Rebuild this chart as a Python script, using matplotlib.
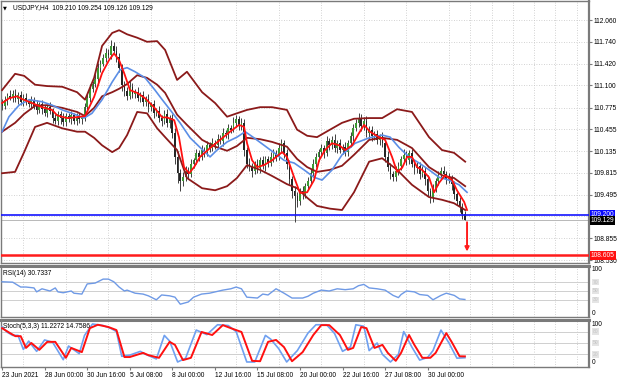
import numpy as np
import matplotlib.pyplot as plt

plt.rcParams['font.family'] = ['Liberation Sans', 'DejaVu Sans']

# USDJPY H4 candles, one per bar (bar 0 = 23 Jun 2021)
first_open = 110.85
closes = [
    110.80, 110.88, 110.95, 110.92, 110.98, 110.90, 110.96, 110.86, 110.92, 110.85,
    110.83, 110.88, 110.80, 110.74, 110.82, 110.76, 110.70, 110.78, 110.72, 110.62,
    110.58, 110.68, 110.62, 110.56, 110.65, 110.60, 110.66, 110.58, 110.64, 110.60,
    110.62, 110.78, 110.92, 111.05, 111.12, 111.20, 111.35, 111.42, 111.50, 111.58,
    111.55, 111.68, 111.60, 111.52, 111.35, 111.10, 111.02, 110.95, 111.08, 110.98,
    111.00, 110.92, 110.96, 110.85, 110.90, 110.78, 110.82, 110.70, 110.72, 110.62,
    110.58, 110.68, 110.55, 110.62, 110.40, 110.05, 109.82, 109.70, 109.75, 109.85,
    109.80, 109.95, 110.00, 110.10, 110.05, 110.15, 110.12, 110.22, 110.18, 110.26,
    110.22, 110.32, 110.28, 110.40, 110.38, 110.48, 110.45, 110.55, 110.60, 110.50,
    110.55, 110.15, 109.95, 109.90, 109.85, 109.95, 109.88, 110.00, 109.92, 110.02,
    109.96, 110.05, 110.10, 110.05, 110.18, 110.25, 110.10, 109.95, 109.72, 109.55,
    109.48, 109.40, 109.55, 109.50, 109.62, 109.70, 109.82, 109.95, 110.05, 110.12,
    110.18, 110.10, 110.28, 110.22, 110.30, 110.18, 110.25, 110.15, 110.20, 110.12,
    110.25, 110.35, 110.48, 110.55, 110.62, 110.50, 110.58, 110.40, 110.45, 110.35,
    110.38, 110.30, 110.35, 110.25, 110.05, 109.90, 109.80, 109.75, 109.85, 109.92,
    110.02, 110.08, 110.00, 110.10, 109.95, 109.88, 109.92, 109.80, 109.85, 109.72,
    109.55, 109.45, 109.58, 109.70, 109.78, 109.85, 109.80, 109.72, 109.75, 109.65,
    109.50, 109.40, 109.32, 109.21, 109.129,
]
wick_up = [
    .05, .06, .04, .08, .05, .07, .04, .06, .05, .07,
    .04, .06, .05, .08, .04, .06, .05, .04, .07, .05,
    .06, .04, .05, .07, .04, .05, .06, .04, .05, .06,
    .04, .06, .05, .07, .05, .06, .08, .05, .06, .07,
    .05, .09, .06, .08, .05, .07, .06, .05, .08, .06,
    .05, .07, .04, .06, .05, .07, .04, .06, .05, .07,
    .05, .06, .08, .05, .06, .07, .09, .05, .08, .06,
    .05, .07, .04, .06, .05, .08, .04, .06, .05, .07,
    .04, .06, .05, .07, .05, .06, .04, .08, .06, .05,
    .07, .06, .05, .08, .06, .04, .07, .05, .06, .04,
    .05, .07, .06, .05, .08, .06, .05, .07, .06, .05,
    .07, .06, .05, .07, .04, .06, .05, .07, .06, .05,
    .06, .04, .07, .05, .06, .08, .05, .06, .04, .07,
    .05, .07, .06, .05, .08, .06, .05, .07, .05, .06,
    .05, .07, .04, .06, .05, .08, .06, .05, .07, .06,
    .05, .08, .06, .05, .07, .04, .06, .05, .07, .05,
    .06, .05, .07, .04, .06, .05, .07, .05, .06, .04,
    .05, .04, .06, .05, .044,
]
wick_dn = [
    .06, .05, .07, .04, .06, .05, .08, .05, .06, .04,
    .05, .07, .04, .06, .05, .08, .05, .06, .04, .07,
    .05, .06, .08, .05, .06, .04, .07, .05, .06, .05,
    .06, .04, .05, .06, .04, .05, .06, .05, .04, .06,
    .05, .06, .04, .07, .06, .08, .07, .06, .05, .07,
    .06, .05, .07, .06, .05, .07, .06, .08, .05, .06,
    .07, .05, .06, .08, .07, .10, .15, .15, .08, .06,
    .06, .05, .07, .05, .06, .04, .07, .05, .06, .05,
    .05, .06, .04, .07, .05, .06, .05, .04, .06, .05,
    .06, .08, .07, .06, .09, .05, .07, .06, .05, .07,
    .06, .05, .07, .06, .05, .07, .06, .08, .07, .10,
    .38, .08, .06, .07, .05, .06, .05, .07, .05, .06,
    .05, .06, .04, .07, .05, .06, .07, .05, .06, .05,
    .06, .05, .07, .05, .06, .07, .05, .06, .08, .06,
    .05, .06, .07, .05, .08, .06, .07, .06, .05, .07,
    .06, .05, .07, .06, .05, .08, .06, .07, .05, .08,
    .07, .08, .06, .05, .07, .06, .05, .07, .06, .08,
    .07, .06, .08, .07, .003,
]

# Bollinger bands
bb_bar = [0, 4.9, 8.3, 12.4, 16.9, 22.6, 28.2, 31.2, 34.6, 37.6, 41.4, 44.0, 47.0, 50.8,
          54.5, 58.3, 61.3, 65.8, 69.5, 75.2, 80.1, 84.6, 88.3, 92.1, 97.0, 101.5, 107.1,
          110.9, 114.7, 118.4, 123.3, 127.8, 132.3, 138.0, 142.9, 148.5, 154.1, 160.5,
          165.4, 169.9, 174.1]
bb_upper = [111.03, 111.27, 111.24, 111.11, 111.09, 111.08, 111.00, 110.89, 111.21, 111.68,
            111.87, 111.91, 111.85, 111.80, 111.74, 111.75, 111.62, 111.18, 111.30, 111.00,
            110.84, 110.64, 110.69, 110.74, 110.78, 110.78, 110.74, 110.45, 110.36, 110.34,
            110.45, 110.55, 110.61, 110.62, 110.62, 110.75, 110.71, 110.34, 110.15, 110.11,
            109.98]
bb_mid = [110.42, 110.55, 110.68, 110.80, 110.81, 110.77, 110.71, 110.65, 110.77, 110.94,
          111.00, 111.05, 111.12, 111.25, 111.21, 111.11, 110.99, 110.67, 110.52, 110.30,
          110.20, 110.14, 110.21, 110.33, 110.31, 110.27, 110.20, 110.02, 109.90, 109.83,
          109.86, 109.92, 110.08, 110.30, 110.33, 110.30, 110.18, 109.90, 109.78, 109.74,
          109.62]
bb_lower = [109.81, 109.83, 110.12, 110.49, 110.55, 110.47, 110.42, 110.42, 110.33, 110.22,
            110.12, 110.18, 110.37, 110.71, 110.69, 110.47, 110.34, 110.15, 109.74, 109.59,
            109.56, 109.62, 109.74, 109.93, 109.86, 109.77, 109.65, 109.59, 109.45, 109.33,
            109.29, 109.27, 109.53, 109.98, 110.03, 109.86, 109.64, 109.46, 109.42, 109.37,
            109.27]

# slow MA (blue)
ma_slow_bar = [0, 2.6, 6.4, 10.2, 15.0, 18.8, 22.6, 26.3, 30.8, 33.8, 37.6, 41.4, 44.4, 47.0,
               50.0, 53.8, 57.5, 60.2, 63.2, 66.9, 70.7, 74.4, 78.2, 80.8, 84.6, 88.3, 91.4,
               94.7, 98.5, 102.3, 106.0, 109.8, 113.5, 117.3, 120.3, 124.1, 127.8, 132.7,
               138.0, 142.9, 145.9, 149.2, 153.0, 156.8, 160.5, 164.3, 168.0, 171.8, 174.8]
ma_slow = [110.42, 110.64, 110.81, 110.89, 110.86, 110.81, 110.74, 110.69, 110.62, 110.69,
           110.89, 111.15, 111.33, 111.36, 111.30, 111.21, 111.03, 110.89, 110.74, 110.55,
           110.33, 110.19, 110.05, 110.15, 110.27, 110.34, 110.42, 110.33, 110.22, 110.11,
           110.00, 109.96, 109.86, 109.75, 109.71, 109.86, 110.08, 110.25, 110.33, 110.37,
           110.34, 110.19, 110.05, 109.96, 109.86, 109.75, 109.71, 109.64, 109.53]

# fast MA (red)
ma_fast_bar = [0, 2.6, 5.6, 7.5, 11.3, 15.0, 18.8, 20.7, 24.4, 27.4, 31.2, 34.6, 37.6, 40.2,
               42.1, 44.0, 45.9, 48.1, 50.8, 53.8, 57.1, 60.2, 62.0, 64.7, 66.5, 68.4, 70.3,
               72.2, 74.4, 78.2, 82.0, 85.7, 89.1, 91.0, 92.1, 94.0, 95.9, 98.5, 101.5, 105.3,
               107.1, 109.8, 112.0, 114.7, 117.3, 119.2, 121.4, 124.0, 126.7, 129.0, 131.6,
               134.2, 136.1, 138.3, 141.7, 144.0, 146.6, 148.5, 150.4, 152.3, 154.1, 156.0,
               157.9, 160.5, 162.4, 164.3, 166.5, 169.2, 171.0, 173.7, 174.8]
ma_fast = [110.84, 110.91, 110.94, 110.90, 110.84, 110.78, 110.74, 110.66, 110.62, 110.63,
           110.65, 110.93, 111.28, 111.47, 111.57, 111.47, 111.28, 111.03, 110.99, 110.91,
           110.78, 110.63, 110.63, 110.59, 110.34, 109.90, 109.81, 109.90, 110.05, 110.18,
           110.30, 110.42, 110.52, 110.49, 110.25, 110.00, 109.90, 109.93, 110.00, 110.12,
           110.05, 109.75, 109.52, 109.53, 109.71, 110.00, 110.15, 110.25, 110.22, 110.15,
           110.22, 110.40, 110.52, 110.42, 110.34, 110.30, 110.05, 109.83, 109.89, 110.05,
           110.05, 109.90, 109.86, 109.75, 109.53, 109.67, 109.78, 109.71, 109.56, 109.39,
           109.27]

# RSI(14)
rsi_bar = [0, 4, 7, 9, 12, 13, 15, 18, 20, 21, 23, 26, 27, 30, 32, 35, 38, 40, 42, 44, 46, 47,
           50, 53, 55, 58, 60, 63, 65, 67, 70, 72, 75, 78, 83, 86, 88, 90, 92, 96, 98, 100,
           103, 106, 109, 113, 115, 117, 120, 123, 126, 129, 132, 134, 136, 138, 141, 144,
           147, 149, 150, 152, 155, 157, 160, 162, 165, 167, 170, 172, 174]
rsi = [71, 70, 59, 59, 57, 48, 55, 50, 57, 48, 46, 50, 45, 43, 66, 68, 77, 77, 71, 59, 50, 52,
       45, 43, 39, 30, 41, 39, 36, 20, 25, 36, 43, 45, 52, 55, 59, 55, 36, 34, 43, 41, 55,
       45, 34, 34, 38, 45, 52, 50, 55, 53, 55, 62, 65, 57, 55, 52, 40, 35, 42, 50, 48, 42,
       40, 30, 40, 45, 40, 32, 30.73]

# Stochastic(5,3,3)
stk_bar = [0, 2, 4, 6, 8, 10, 13, 16, 19, 23, 25, 29, 31, 34, 38, 41, 43, 45, 48, 52,
           54, 58, 61, 63, 66, 69, 73, 77, 81, 85, 88, 92, 95, 99, 101, 104, 107, 111, 115, 118,
           122, 125, 128, 131, 133, 136, 138, 141, 143, 146, 149, 151, 154, 157, 160, 162, 165,
           168, 171, 174]
stoch_k = [92, 78, 70, 70, 33, 55, 28, 58, 52, 6, 42, 22, 70, 100, 96, 88, 80, 15, 18, 28,
           20, 8, 70, 55, 0, 10, 84, 72, 98, 96, 80, 0, 0, 70, 60, 35, 0, 30, 76, 98,
           98, 75, 28, 40, 98, 94, 30, 50, 20, 0, 20, 80, 40, 5, 12, 30, 84, 50, 10, 11.23]
std_bar = [0, 3, 5, 7, 9, 11, 14, 17, 20, 24, 26, 30, 33, 36, 40, 43, 46, 48, 53, 55,
           59, 63, 65, 68, 71, 75, 79, 83, 86, 90, 94, 97, 100, 103, 106, 109, 113, 117, 120,
           123, 127, 130, 132, 135, 137, 140, 143, 145, 148, 150, 153, 155, 158, 161, 163, 167,
           169, 172, 174]
stoch_d = [89, 76, 68, 68, 37, 50, 32, 53, 53, 11, 37, 26, 89, 98, 92, 84, 13, 13, 24, 18,
           11, 53, 45, 5, 11, 79, 71, 97, 89, 79, 3, 2, 53, 58, 39, 2, 26, 71, 97,
           97, 71, 32, 37, 92, 89, 37, 45, 24, 3, 24, 71, 45, 11, 11, 24, 76, 53, 15, 14.76]

price_ticks = [112.060, 111.740, 111.420, 111.100, 110.775, 110.455, 110.135, 109.815,
               109.495, 109.175, 108.855, 108.530]
date_ticks = [0, 16, 32, 48, 64, 80, 96, 112, 128, 144, 160]
date_labels = ['23 Jun 2021', '28 Jun 00:00', '30 Jun 16:00', '5 Jul 08:00', '8 Jul 00:00',
               '12 Jul 16:00', '15 Jul 08:00', '20 Jul 00:00', '22 Jul 16:00', '27 Jul 08:00',
               '30 Jul 00:00']
level_support = 109.200
level_target = 108.605
last_price = 109.129

W, H = 620, 382
FS = 4.8
GRID = '#c4c4c4'
FRAME = '#7a7a7a'


def rect(l, t, r, b):
    return [l / W, 1 - b / H, (r - l) / W, (b - t) / H]


fig = plt.figure(figsize=(6.2, 3.82), dpi=100)
ax = fig.add_axes(rect(1, 1, 589, 263))
ax_rsi = fig.add_axes(rect(1, 266, 589, 317), sharex=ax)
ax_st = fig.add_axes(rect(1, 320, 589, 367), sharex=ax)

for a in (ax, ax_rsi, ax_st):
    for s in a.spines.values():
        s.set_color(FRAME)
        s.set_linewidth(1.0)
    a.spines['right'].set_linewidth(1.6)
    a.set_xticks(np.arange(0, 221, 8), minor=True)
    a.grid(which='minor', axis='x', color=GRID, ls=(0, (1, 2)), lw=0.6)
    a.set_axisbelow(True)
ax_rsi.spines['top'].set_linewidth(2.2)
ax_st.spines['top'].set_linewidth(2.2)
ax.set_xlim(-0.4, 220.65)

# ---- price panel
ax.set_ylim(108.492, 112.339)
ax.grid(axis='y', color=GRID, ls=(0, (1, 2)), lw=0.6)

c = np.array(closes)
o = np.r_[first_open, c[:-1]]
bars = np.arange(len(c))
hi = np.maximum(o, c) + np.array(wick_up)
lo = np.minimum(o, c) - np.array(wick_dn)
bull = c >= o
ax.vlines(bars, lo, hi, color='#333333', lw=0.65, zorder=2)
ax.bar(bars, np.maximum(np.abs(c - o), 0.008), bottom=np.minimum(o, c), width=0.62,
       color=np.where(bull, '#3c9a34', '#262626'), lw=0, zorder=2)

for band in (bb_upper, bb_mid, bb_lower):
    ax.plot(bb_bar, band, color='#8b1a1a', lw=1.3, zorder=3, solid_joinstyle='round')
ax.plot(ma_slow_bar, ma_slow, color='#5b8ee6', lw=1.2, zorder=4)
ax.plot(ma_fast_bar, ma_fast, color='#ff1010', lw=1.3, zorder=5)

ax.axhline(level_support, color='#1414ff', lw=1.2, zorder=4)
ax.axhline(last_price, color='#b8b8b8', lw=0.7, zorder=1)
ax.axhline(level_target, color='#ff1c1c', lw=1.8, zorder=4)
ax.annotate('', xy=(174.8, 108.66), xytext=(174.8, 109.09),
            arrowprops=dict(arrowstyle='-|>', color='#ff1c1c', lw=1.4,
                            mutation_scale=6, shrinkA=0, shrinkB=0), zorder=6)

ax.yaxis.tick_right()
ax.set_yticks(price_ticks)
ax.set_yticklabels([f'{p:.3f}' if p != 109.175 else '' for p in price_ticks])
ax.tick_params(axis='y', labelsize=FS, length=2, pad=1.2, color=FRAME)
ax.tick_params(axis='x', which='both', length=0, labelbottom=False)

ytr = ax.get_yaxis_transform()
for val, txt, fc in ((level_support, '109.200', '#0a0aff'),
                     (last_price - 0.02, '109.129', '#000000'),
                     (level_target, '108.605', '#ff1010')):
    ax.text(1.003, val, txt, transform=ytr, fontsize=FS, color='white', va='center',
            ha='left', bbox=dict(fc=fc, ec='none', pad=0.7), clip_on=False, zorder=7)

ax.text(0.004, 0.985, '\u25BC', transform=ax.transAxes, fontsize=3.6, va='top', ha='left',
        family='DejaVu Sans')
ax.text(0.02, 0.988, 'USDJPY,H4  109.210 109.254 109.126 109.129', transform=ax.transAxes,
        fontsize=FS, va='top', ha='left')

# ---- RSI panel
ax_rsi.set_ylim(-9.1, 106.8)
for lvl in (70, 50, 30):
    ax_rsi.axhline(lvl, color='#cfcfcf', lw=0.7, zorder=1)
ax_rsi.plot(rsi_bar, rsi, color='#6f9ae6', lw=1.0, zorder=3)
ax_rsi.yaxis.tick_right()
ax_rsi.set_yticks([100, 0])
ax_rsi.tick_params(axis='y', labelsize=FS, length=0, pad=2)
ax_rsi.tick_params(axis='x', which='both', length=0, labelbottom=False)
rtr = ax_rsi.get_yaxis_transform()
for lvl in (70, 50, 30):
    ax_rsi.text(1.006, lvl, str(lvl), transform=rtr, fontsize=3.6, color='#c4c4c4', va='center',
                ha='left', bbox=dict(fc='#e4e4e4', ec='none', pad=0.5), clip_on=False)
ax_rsi.text(0.004, 0.93, 'RSI(14) 30.7337', transform=ax_rsi.transAxes, fontsize=FS,
            va='top', ha='left')

# ---- Stochastic panel
ax_st.set_ylim(-13.2, 110.5)
for lvl in (80, 50, 20):
    ax_st.axhline(lvl, color='#cfcfcf', lw=0.7, zorder=1)
ax_st.plot(stk_bar, stoch_k, color='#6fa0f0', lw=1.2, zorder=3)
ax_st.plot(std_bar, stoch_d, color='#ff1010', lw=1.4, zorder=4)
ax_st.yaxis.tick_right()
ax_st.set_yticks([100, 0])
ax_st.tick_params(axis='y', labelsize=FS, length=0, pad=2)
str_ = ax_st.get_yaxis_transform()
for lvl in (80, 50, 20):
    ax_st.text(1.006, lvl, str(lvl), transform=str_, fontsize=3.6, color='#c4c4c4', va='center',
               ha='left', bbox=dict(fc='#e4e4e4', ec='none', pad=0.5), clip_on=False)
ax_st.text(0.004, 0.93, 'Stoch(5,3,3) 11.2272 14.7586', transform=ax_st.transAxes, fontsize=FS,
           va='top', ha='left')
ax_st.set_xticks(date_ticks)
ax_st.set_xticklabels(date_labels, ha='left')
ax_st.tick_params(axis='x', which='major', labelsize=FS, length=2, pad=1.5, color=FRAME)
ax_st.tick_params(axis='x', which='minor', length=0)

fig.savefig('out.png', dpi=100)
